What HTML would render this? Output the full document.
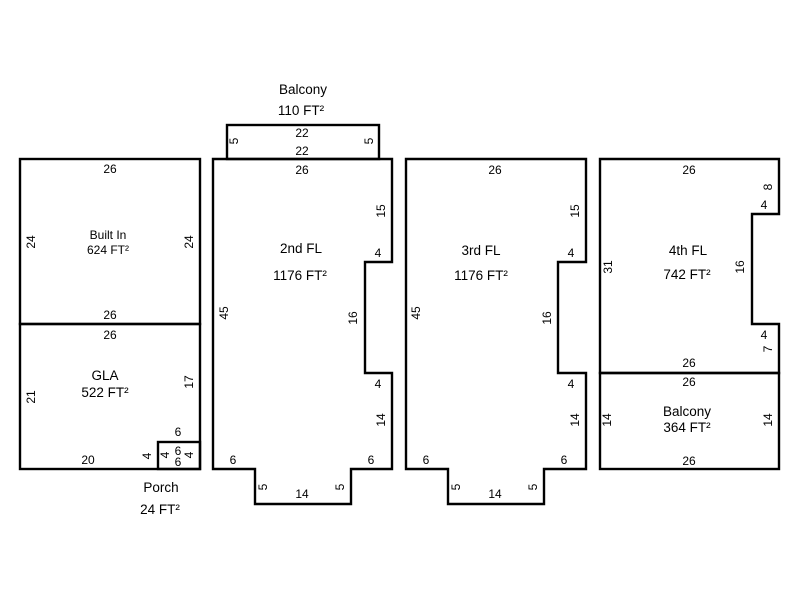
<!DOCTYPE html>
<html><head><style>body{margin:0;background:#fff}svg{display:block}text{font-family:"Liberation Sans",Arial,sans-serif;font-size:12px;fill:#000}.r{font-size:13.5px}</style></head><body>
<svg width="800" height="600" viewBox="0 0 800 600" xmlns="http://www.w3.org/2000/svg">
<g fill="none" stroke="#000" stroke-width="2.4">
<rect x="20" y="159" width="180" height="165"/>
<rect x="20" y="324" width="180" height="145"/>
<rect x="158" y="442" width="42" height="27"/>
<rect x="227" y="125" width="152" height="34"/>
<path d="M213 159 H392 V262 H365 V373 H392 V469 H351 V504 H255 V469 H213 Z"/>
<path d="M406 159 H586 V262 H558 V373 H586 V469 H544 V504 H448 V469 H406 Z"/>
<path d="M600 159 H779 V214 H752 V324 H779 V373 H600 Z"/>
<rect x="600" y="373" width="179" height="96"/>
</g>
<g text-anchor="middle">
<text class="r" x="303" y="94">Balcony</text><text class="r" x="301" y="115">110 FT²</text>
<text x="302" y="137">22</text><text x="302" y="155" font-size="10">22</text>
<text x="110" y="173">26</text><text x="108" y="239" font-size="11">Built In</text><text x="108" y="254" font-size="11">624 FT²</text>
<text x="110" y="319">26</text><text x="110" y="339">26</text>
<text class="r" x="105" y="380">GLA</text><text class="r" x="105" y="397">522 FT²</text>
<text x="88" y="464">20</text><text x="178" y="436">6</text><text x="178" y="455">6</text><text x="178" y="466" font-size="10">6</text>
<text class="r" x="161" y="492">Porch</text><text class="r" x="160" y="514">24 FT²</text>
<text x="302" y="174">26</text><text class="r" x="301" y="253">2nd FL</text><text class="r" x="300" y="280">1176 FT²</text>
<text x="378" y="257">4</text><text x="378" y="388">4</text>
<text x="233" y="464">6</text><text x="371" y="464">6</text><text x="302" y="498">14</text>
<text x="495" y="174">26</text><text class="r" x="481" y="255">3rd FL</text><text class="r" x="481" y="280">1176 FT²</text>
<text x="571" y="257">4</text><text x="571" y="388">4</text>
<text x="426" y="464">6</text><text x="564" y="464">6</text><text x="495" y="498">14</text>
<text x="689" y="174">26</text><text class="r" x="688" y="255">4th FL</text><text class="r" x="687" y="279">742 FT²</text>
<text x="764" y="209">4</text><text x="764" y="339">4</text>
<text x="689" y="367">26</text><text x="689" y="386">26</text>
<text class="r" x="687" y="416">Balcony</text><text class="r" x="687" y="432">364 FT²</text>
<text x="689" y="465">26</text>
</g>
<g text-anchor="middle">
<text transform="translate(35,242) rotate(-90)">24</text>
<text transform="translate(193,242) rotate(-90)">24</text>
<text transform="translate(35,397) rotate(-90)">21</text>
<text transform="translate(193,382) rotate(-90)">17</text>
<text transform="translate(151,456) rotate(-90)">4</text>
<text transform="translate(169,455) rotate(-90)">4</text>
<text transform="translate(193,455) rotate(-90)">4</text>
<text transform="translate(238,141) rotate(-90)" font-size="10">5</text>
<text transform="translate(373,141) rotate(-90)">5</text>
<text transform="translate(228,313) rotate(-90)">45</text>
<text transform="translate(385,211) rotate(-90)">15</text>
<text transform="translate(357,318) rotate(-90)">16</text>
<text transform="translate(385,420) rotate(-90)">14</text>
<text transform="translate(267,487) rotate(-90)">5</text>
<text transform="translate(344,487) rotate(-90)">5</text>
<text transform="translate(420,313) rotate(-90)">45</text>
<text transform="translate(579,211) rotate(-90)">15</text>
<text transform="translate(551,318) rotate(-90)">16</text>
<text transform="translate(579,420) rotate(-90)">14</text>
<text transform="translate(460,487) rotate(-90)">5</text>
<text transform="translate(537,487) rotate(-90)">5</text>
<text transform="translate(612,267) rotate(-90)">31</text>
<text transform="translate(744,267) rotate(-90)">16</text>
<text transform="translate(772,187) rotate(-90)">8</text>
<text transform="translate(772,349) rotate(-90)">7</text>
<text transform="translate(611,420) rotate(-90)">14</text>
<text transform="translate(772,420) rotate(-90)">14</text>
</g>
</svg>
</body></html>
